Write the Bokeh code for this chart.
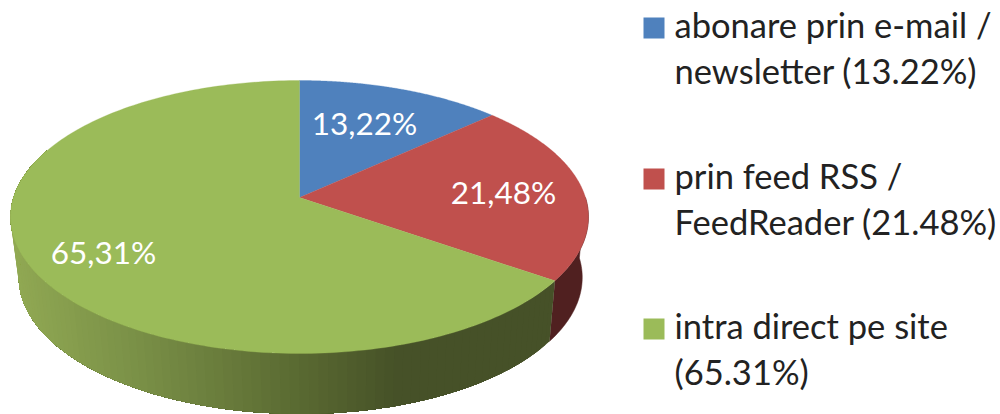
import numpy as np
from bokeh.plotting import figure
from bokeh.models import Range1d
from bokeh.core.properties import value
from bokeh.embed import file_html
from bokeh.resources import INLINE

# data
categories = ["abonare prin e-mail /\nnewsletter (13.22%)",
              "prin feed RSS /\nFeedReader (21.48%)",
              "intra direct pe site\n(65.31%)"]
shares = [13.22, 21.48, 65.31]
data_labels = ["13,22%", "21,48%", "65,31%"]
top_colors = ["#4f81bd", "#c0504d", "#9bbb59"]
label_pos = [(364, 122), (503, 191), (103, 251)]
legend_y = [27.5, 178.5, 328.5]
FONT = "Lato"

# perspective of the pie
CX, CY, A, B, K = 299.0, 197.0, 286.0, 133.7, 0.1429
DROP, SHRINK, CX2 = 60.5, 0.975, 300.0


def top(theta):
    d = 1 + K * np.cos(theta)
    return CX + A * np.sin(theta) / d, CY - B * np.cos(theta) / d


def bottom(theta):
    d = 1 + K * np.cos(theta)
    return CX2 + SHRINK * A * np.sin(theta) / d, CY + DROP - B * np.cos(theta) / d


total = sum(shares)
edges = np.concatenate([[0.0], np.cumsum(shares) / total * 2 * np.pi])

p = figure(width=1000, height=414, output_backend="svg", toolbar_location=None,
           x_range=Range1d(0, 1000), y_range=Range1d(414, 0),
           min_border=0, outline_line_color=None)
p.axis.visible = False
p.grid.visible = False
p.background_fill_color = "white"
p.border_fill_color = "white"


def mix(x):
    xs = [10, 150, 300, 400]
    r = np.interp(x, xs, [146, 120, 90, 70])
    g = np.interp(x, xs, [170, 142, 106, 81])
    b = np.interp(x, xs, [84, 70, 50, 40])
    return "#%02x%02x%02x" % (int(r), int(g), int(b))


# side walls: red then green
t = np.linspace(np.pi / 2, edges[2], 40)
xa, ya = top(t)
xb, yb = bottom(t)
p.patch(list(xa) + list(xb[::-1]), list(ya) + list(yb[::-1]),
        fill_color="#502020", line_color="#502020", line_width=0.5)

# green wall: painted as nested bands, each band running on to the far end
t_end = 1.62 * np.pi
fine = np.linspace(edges[2], t_end, 300)
for start in fine[:-1:3]:
    tt = fine[fine >= start]
    xa, ya = top(tt)
    xb, yb = bottom(tt)
    c = mix((xa[:3].mean() + xb[:3].mean()) / 2)
    p.patch(list(xa) + list(xb[::-1]), list(ya) + list(yb[::-1]),
            fill_color=c, line_color=None)

# top faces
for i, col in enumerate(top_colors):
    t = np.linspace(edges[i], edges[i + 1], 200)
    x, y = top(t)
    p.patch([CX] + list(x), [CY] + list(y), fill_color=col, line_color=col, line_width=0.3)

# data labels
for (lx, ly), txt in zip(label_pos, data_labels):
    p.text([lx], [ly], text=[txt], text_color="white", text_font=value(FONT),
           text_font_size="31.5px", text_align="center", text_baseline="alphabetic")

# legend
for y, name, col in zip(legend_y, categories, top_colors):
    p.rect([653.5], [y], width=21, height=21, fill_color=col, line_color=None)
    l1, l2 = name.split("\n")
    for dy, s in ((-3.5, l1), (42, l2)):
        p.text([674], [y + dy], text=[s], text_color="#222222", text_font=value(FONT),
               text_font_size="34.5px", text_align="left", text_baseline="alphabetic")

open("out.html", "w").write(file_html(p, INLINE))
